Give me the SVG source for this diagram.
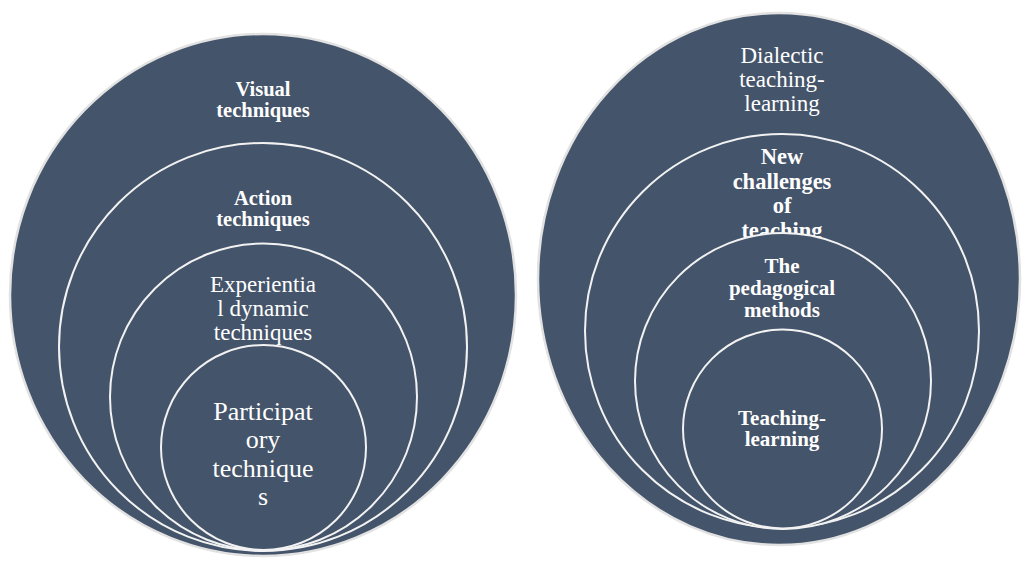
<svg xmlns="http://www.w3.org/2000/svg" width="1022" height="561" viewBox="0 0 1022 561">
<style>
.outer{fill:#44546A;stroke:#E2E2E2;stroke-width:2.5}
.ring{fill:#44546A;stroke:#F2F2F2;stroke-width:2}
text{font-family:"Liberation Serif","Times New Roman",serif;fill:#FFFFFF;text-anchor:middle}
.b{font-weight:bold}
</style>
<rect width="1022" height="561" fill="#FFFFFF"/>
<g id="left">
  <g id="visual-techniques">
    <ellipse class="outer" cx="263" cy="295" rx="253" ry="261"/>
    <text class="b" font-size="20.5" x="263" y="96">Visual</text>
    <text class="b" font-size="20.5" x="263" y="117">techniques</text>
  </g>
  <g id="action-techniques">
    <circle class="ring" cx="263" cy="347" r="204"/>
    <text class="b" font-size="20.5" x="263" y="205">Action</text>
    <text class="b" font-size="20.5" x="263" y="226">techniques</text>
  </g>
  <g id="experiential-dynamic-techniques">
    <circle class="ring" cx="263.5" cy="397" r="153.5"/>
    <text font-size="23" x="263" y="292">Experientia</text>
    <text font-size="23" x="263" y="316">l dynamic</text>
    <text font-size="23" x="263" y="340">techniques</text>
  </g>
  <g id="participatory-techniques">
    <circle class="ring" cx="263.5" cy="447.5" r="102.5"/>
    <text font-size="26" x="263" y="420">Participat</text>
    <text font-size="26" x="263" y="448">ory</text>
    <text font-size="26" x="263" y="477">technique</text>
    <text font-size="26" x="263" y="505">s</text>
  </g>
</g>
<g id="right">
  <g id="dialectic-teaching-learning">
    <ellipse class="outer" cx="779" cy="279" rx="241" ry="266"/>
    <text font-size="23" x="782" y="63">Dialectic</text>
    <text font-size="23" x="782" y="87">teaching-</text>
    <text font-size="23" x="782" y="111">learning</text>
  </g>
  <g id="new-challenges">
    <circle class="ring" cx="782" cy="331" r="197"/>
    <text class="b" font-size="22.5" x="782" y="164">New</text>
    <text class="b" font-size="22.5" x="782" y="189">challenges</text>
    <text class="b" font-size="22.5" x="782" y="213">of</text>
    <text class="b" font-size="22.5" x="782" y="238">teaching</text>
  </g>
  <g id="pedagogical-methods">
    <circle class="ring" cx="783" cy="381" r="148"/>
    <text class="b" font-size="21" x="782" y="273">The</text>
    <text class="b" font-size="21" x="782" y="295">pedagogical</text>
    <text class="b" font-size="21" x="782" y="317">methods</text>
  </g>
  <g id="teaching-learning">
    <circle class="ring" cx="782.5" cy="429" r="99.5"/>
    <text class="b" font-size="21" x="782" y="425">Teaching-</text>
    <text class="b" font-size="21" x="782" y="446">learning</text>
  </g>
</g>
<g id="connectors"></g>
</svg>
